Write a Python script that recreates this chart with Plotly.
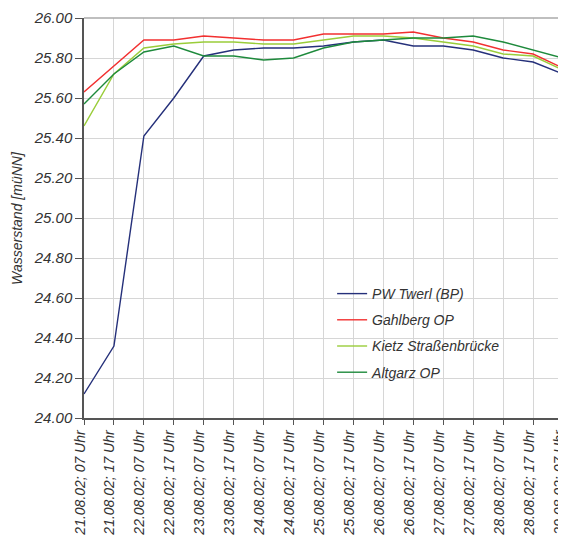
import plotly.graph_objects as go

categories = ["21.08.02; 07 Uhr", "21.08.02; 17 Uhr", "22.08.02; 07 Uhr", "22.08.02; 17 Uhr",
              "23.08.02; 07 Uhr", "23.08.02; 17 Uhr", "24.08.02; 07 Uhr", "24.08.02; 17 Uhr",
              "25.08.02; 07 Uhr", "25.08.02; 17 Uhr", "26.08.02; 07 Uhr", "26.08.02; 17 Uhr",
              "27.08.02; 07 Uhr", "27.08.02; 17 Uhr", "28.08.02; 07 Uhr", "28.08.02; 17 Uhr",
              "29.08.02; 07 Uhr"]

pw_twerl = [24.12, 24.36, 25.41, 25.60, 25.81, 25.84, 25.85, 25.85, 25.86, 25.88, 25.89,
            25.86, 25.86, 25.84, 25.80, 25.78, 25.72]
gahlberg = [25.63, 25.76, 25.89, 25.89, 25.91, 25.90, 25.89, 25.89, 25.92, 25.92, 25.92,
            25.93, 25.90, 25.88, 25.84, 25.82, 25.75]
kietz = [25.46, 25.72, 25.85, 25.87, 25.88, 25.88, 25.87, 25.87, 25.89, 25.91, 25.91,
         25.90, 25.88, 25.86, 25.82, 25.81, 25.74]
altgarz = [25.57, 25.72, 25.83, 25.86, 25.81, 25.81, 25.79, 25.80, 25.85, 25.88, 25.89,
           25.90, 25.90, 25.91, 25.88, 25.84, 25.80]

y_ticks = [24.00, 24.20, 24.40, 24.60, 24.80, 25.00, 25.20, 25.40, 25.60, 25.80, 26.00]
y_ticktext = [f"{v:.2f}" for v in y_ticks]

series = [
    ("PW Twerl (BP)", pw_twerl, "#25307a"),
    ("Gahlberg OP", gahlberg, "#f23030"),
    ("Kietz Straßenbrücke", kietz, "#9acd3a"),
    ("Altgarz OP", altgarz, "#1e8a3c"),
]

fig = go.Figure()
for name, vals, col in series:
    fig.add_trace(go.Scatter(x=categories, y=vals, mode="lines", name=name,
                             legendgroup=name,
                             line=dict(color=col, width=1.4)))

font_family = "Liberation Sans, Arial, sans-serif"

# page body has an 8px margin, so the figure is 8px smaller and margins compensate
fig.update_layout(
    width=558, height=537,
    margin=dict(l=76, r=3, t=10, b=127),
    paper_bgcolor="white", plot_bgcolor="white",
    font=dict(family=font_family, color="#333333", size=14),
    showlegend=True,
    legend=dict(x=0.518, y=0.35, xanchor="left", yanchor="top",
                bgcolor="rgba(255,255,255,0)", borderwidth=0,
                font=dict(family=font_family, size=14, color="#333333", style="italic"),
                tracegroupgap=5),
    xaxis=dict(type="category", range=[0, 16], showgrid=True, gridcolor="#d6d6d6",
               gridwidth=1, showline=True, linecolor="#555555", linewidth=1.5,
               ticks="outside", ticklen=5, tickcolor="#555555", tickangle=-90,
               ticklabeloverflow="allow", ticklabelshift=-4, automargin=False,
               tickfont=dict(family=font_family, size=14, color="#333333", style="italic"),
               zeroline=False),
    yaxis=dict(range=[24.0, 26.0], tickvals=y_ticks, ticktext=y_ticktext,
               showgrid=True, gridcolor="#d6d6d6", gridwidth=1,
               showline=True, linecolor="#555555", linewidth=1.5,
               ticks="outside", ticklen=7, tickcolor="#555555", automargin=False,
               tickfont=dict(family=font_family, size=15, color="#333333", style="italic"),
               zeroline=False),
)

# y-axis title
fig.add_annotation(text="Wasserstand [müNN]", xref="paper", yref="paper", x=0, y=0.5,
                   xanchor="center", yanchor="middle", xshift=-67, textangle=-90,
                   showarrow=False,
                   font=dict(family=font_family, size=14, color="#333333", style="italic"))

# white legend background box
fig.add_shape(type="rect", xref="paper", yref="paper", x0=0.466, x1=0.946, y0=0.082, y1=0.352,
              fillcolor="white", line=dict(width=0), layer="below")

# top and right frame lines
fig.add_shape(type="line", xref="paper", yref="paper", x0=0, x1=1, y0=1, y1=1,
              line=dict(color="#aaaaaa", width=1.5))
fig.add_shape(type="line", xref="paper", yref="paper", x0=1, x1=1, y0=0, y1=1,
              line=dict(color="#aaaaaa", width=1.5))

fig.write_html("out.html")
